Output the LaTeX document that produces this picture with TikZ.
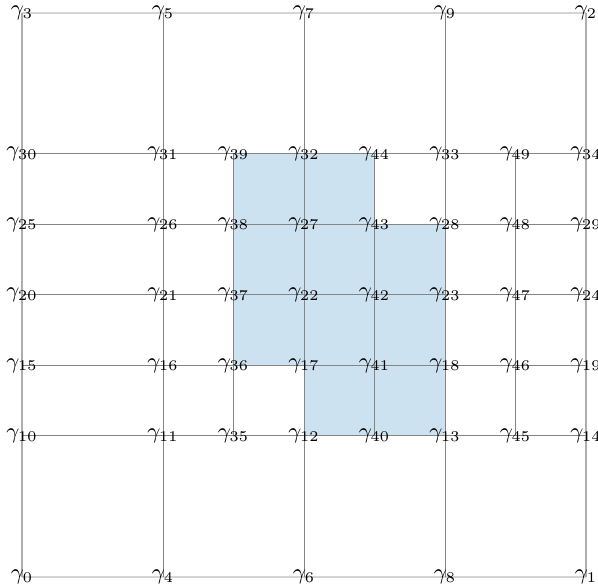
\documentclass[tikz,border=0pt]{standalone}
\begin{document}
\begin{tikzpicture}[x=2cm,y=2cm,
  outer/.style={draw=black!17,line width=0.6pt},
  side/.style={draw=black!32,line width=0.45pt},
  inner/.style={draw=black!48,line width=0.4pt},
  lab/.style={inner sep=0pt,font=\small},
  region/.style={fill={rgb,255:red,204;green,226;blue,240},draw=black!48,line width=0.4pt}]
\useasboundingbox (-0.156,-0.068) rectangle (4.085,4.092);
% coordinates
\foreach \n/\x/\y in {0/0/0,4/1/0,6/2/0,8/3/0,1/4/0,
  3/0/4,5/1/4,7/2/4,9/3/4,2/4/4,
  30/0/3,31/1/3,39/1.5/3,32/2/3,44/2.5/3,33/3/3,49/3.5/3,34/4/3,
  25/0/2.5,26/1/2.5,38/1.5/2.5,27/2/2.5,43/2.5/2.5,28/3/2.5,48/3.5/2.5,29/4/2.5,
  20/0/2,21/1/2,37/1.5/2,22/2/2,42/2.5/2,23/3/2,47/3.5/2,24/4/2,
  15/0/1.5,16/1/1.5,36/1.5/1.5,17/2/1.5,41/2.5/1.5,18/3/1.5,46/3.5/1.5,19/4/1.5,
  10/0/1,11/1/1,35/1.5/1,12/2/1,40/2.5/1,13/3/1,45/3.5/1,14/4/1}
  {\coordinate (c\n) at (\x,\y);}
% shaded region
\path[region] (c39) -- (c44) -- (c43) -- (c28) -- (c13) -- (c12) -- (c17) -- (c36) -- cycle;
% outer boundary
\draw[outer] (c3) -- (c2);
\draw[outer] (c0) -- (c1);
\draw[side] (c0) -- (c3);
\draw[side] (c1) -- (c2);
% inner lines
\draw[inner] (c4) -- (c5);
\draw[inner] (c6) -- (c7);
\draw[inner] (c8) -- (c9);
\draw[inner] (c35) -- (c39);
\draw[inner] (c40) -- (c44);
\draw[inner] (c45) -- (c49);
\draw[inner] (c30) -- (c34);
\draw[inner] (c25) -- (c29);
\draw[inner] (c20) -- (c24);
\draw[inner] (c15) -- (c19);
\draw[inner] (c10) -- (c14);
% labels
\foreach \n in {0,...,49}{\node[lab] (g\n) at (c\n) {$\gamma_{\n}$};}
\end{tikzpicture}
\end{document}
